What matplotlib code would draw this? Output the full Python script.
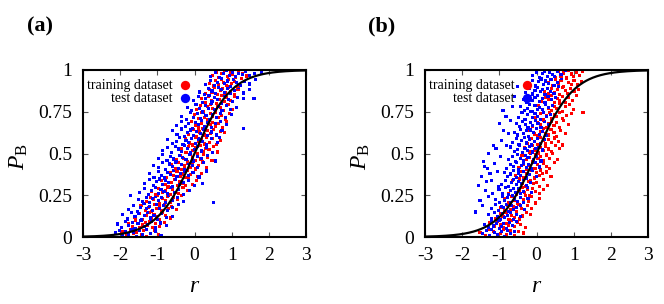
import numpy as np
import matplotlib
matplotlib.use("Agg")
import matplotlib.pyplot as plt

# ---------------- data ----------------
x_ticks = [-3, -2, -1, 0, 1, 2, 3]
x_tick_labels = ["-3", "-2", "-1", "0", "1", "2", "3"]
y_ticks = [0, 0.25, 0.5, 0.75, 1]
y_tick_labels = ["0", "0.25", "0.5", "0.75", "1"]
panel_labels = ["(a)", "(b)"]
legend_labels = ["training dataset", "test dataset"]
series_colors = ["#ff0000", "#0000ff"]

# Each series: list of (r values, P_B values) read band by band (bands of 0.05 in P_B)
train_a = [
    ([-1.95,-1.82,-1.71,-1.63,-1.55,-1.49,-1.43,-1.37,-1.28,-1.19,-1.08,-0.98], [.031,.008,.044,.019,.027,.049,.012,.038,.004,.023,.041,.016]),
    ([-1.77,-1.66,-1.58,-1.47,-1.39,-1.33,-1.26,-1.2,-1.12,-1.04,-0.93,-0.81], [.083,.061,.097,.054,.072,.089,.067,.092,.058,.079,.064,.086]),
    ([-1.6,-1.47,-1.39,-1.3,-1.22,-1.15,-1.09,-1.02,-0.95,-0.86,-0.77,-0.64], [.117,.142,.103,.128,.149,.111,.135,.122,.107,.146,.131,.114]),
    ([-1.44,-1.33,-1.24,-1.16,-1.08,-1.01,-0.94,-0.88,-0.8,-0.71,-0.62,-0.49], [.188,.161,.176,.153,.197,.169,.184,.158,.193,.172,.181,.166]),
    ([-1.3,-1.18,-1.1,-1.01,-0.93,-0.86,-0.79,-0.72,-0.64,-0.56,-0.45,-0.34], [.214,.238,.226,.249,.203,.231,.218,.244,.209,.236,.222,.247]),
    ([-1.15,-1.04,-0.96,-0.87,-0.79,-0.72,-0.65,-0.58,-0.5,-0.42,-0.31,-0.2], [.272,.256,.293,.264,.281,.299,.252,.287,.268,.259,.295,.277]),
    ([-0.89,-0.78,-0.7,-0.61,-0.53,-0.46,-0.39,-0.32,-0.24,-0.16,-0.05,0.06], [.341,.317,.303,.328,.346,.311,.334,.322,.307,.349,.315,.338]),
    ([-0.75,-0.64,-0.56,-0.47,-0.39,-0.32,-0.25,-0.18,-0.1,-0.02,0.09,0.2], [.356,.383,.368,.392,.361,.377,.354,.398,.372,.386,.364,.381]),
    ([-0.62,-0.51,-0.43,-0.34,-0.26,-0.19,-0.12,-0.05,0.03,0.11,0.22,0.33], [.436,.412,.447,.403,.425,.441,.418,.433,.407,.428,.449,.415]),
    ([-0.48,-0.37,-0.29,-0.2,-0.12,-0.05,0.02,0.09,0.17,0.25,0.36,0.47], [.463,.489,.471,.452,.496,.478,.458,.485,.467,.493,.475,.456]),
    ([-0.34,-0.23,-0.15,-0.06,0.02,0.09,0.16,0.23,0.31,0.39,0.5,0.61], [.528,.507,.544,.519,.536,.502,.548,.513,.531,.524,.541,.509]),
    ([-0.24,-0.13,-0.05,0.04,0.12,0.19,0.26,0.33,0.41,0.49,0.6,0.71], [.587,.563,.551,.594,.572,.581,.557,.598,.566,.589,.554,.577]),
    ([-0.15,-0.04,0.04,0.13,0.21,0.28,0.35,0.42,0.5,0.58,0.69,0.8], [.616,.642,.604,.629,.648,.611,.637,.621,.645,.607,.633,.625]),
    ([-0.08,0.03,0.11,0.2,0.28,0.35,0.42,0.49,0.57,0.65,0.76,0.87], [.694,.668,.653,.681,.659,.697,.673,.687,.662,.678,.656,.691]),
    ([-0.01,0.1,0.18,0.27,0.35,0.42,0.49,0.56,0.64,0.72,0.83,0.94], [.733,.709,.745,.718,.702,.739,.724,.748,.713,.729,.706,.741]),
    ([0.06,0.17,0.25,0.34,0.42,0.49,0.56,0.63,0.71,0.79,0.9,1.01], [.762,.787,.754,.779,.796,.768,.751,.784,.773,.758,.791,.766]),
    ([0.2,0.3,0.37,0.45,0.53,0.59,0.66,0.72,0.8,0.87,0.97,1.07], [.829,.806,.843,.815,.838,.802,.824,.847,.811,.833,.818,.841]),
    ([0.3,0.4,0.47,0.55,0.63,0.69,0.76,0.82,0.9,0.97,1.07,1.17], [.857,.882,.866,.894,.851,.877,.889,.862,.898,.871,.854,.886]),
    ([0.4,0.5,0.57,0.65,0.73,0.79,0.86,0.92,1.0,1.07,1.17,1.27], [.918,.904,.937,.912,.946,.926,.908,.941,.921,.933,.902,.949]),
    ([0.48,0.58,0.66,0.74,0.82,0.89,0.96,1.03,1.1,1.18,1.28,1.4], [.967,.988,.953,.979,.995,.961,.984,.972,.957,.991,.976,.964]),
]

test_a = [
    ([-2.12,-2.02,-1.93,-1.85,-1.77,-1.7,-1.63,-1.56,-1.48,-1.39,-1.29,-1.18,-1.05,-0.9], [.024,.041,.009,.033,.017,.046,.028,.005,.038,.013,.044,.021,.036,.011]),
    ([-2.06,-1.96,-1.86,-1.77,-1.68,-1.6,-1.52,-1.44,-1.35,-1.26,-1.16,-1.05,-0.92,-0.76], [.078,.056,.093,.069,.087,.052,.081,.098,.063,.074,.091,.059,.084,.071]),
    ([-1.93,-1.8,-1.69,-1.6,-1.51,-1.43,-1.35,-1.27,-1.18,-1.09,-0.99,-0.88,-0.75,-0.59], [.134,.108,.146,.121,.139,.103,.127,.149,.114,.131,.106,.143,.118,.125]),
    ([-1.78,-1.65,-1.54,-1.45,-1.36,-1.28,-1.2,-1.12,-1.03,-0.94,-0.84,-0.73,-0.6,-0.44], [.163,.189,.154,.176,.198,.168,.183,.157,.192,.171,.186,.159,.179,.195]),
    ([-1.72,-1.5,-1.39,-1.3,-1.21,-1.13,-1.05,-0.97,-0.88,-0.79,-0.69,-0.58,-0.45,-0.29,0.52], [.246,.227,.212,.238,.204,.229,.243,.217,.234,.208,.248,.221,.236,.214,.205]),
    ([-1.48,-1.35,-1.24,-1.15,-1.06,-0.98,-0.9,-0.82,-0.73,-0.64,-0.54,-0.43,-0.3,-0.14], [.266,.291,.254,.279,.297,.261,.284,.272,.258,.294,.269,.287,.253,.276]),
    ([-1.35,-1.22,-1.11,-1.02,-0.93,-0.85,-0.77,-0.69,-0.6,-0.51,-0.41,-0.3,-0.17,-0.01,0.22], [.318,.342,.306,.331,.347,.312,.337,.324,.301,.344,.315,.329,.339,.309,.318]),
    ([-1.22,-1.09,-0.98,-0.89,-0.8,-0.72,-0.64,-0.56,-0.47,-0.38,-0.28,-0.17,-0.04,0.12,0.32], [.382,.357,.394,.369,.353,.388,.374,.398,.362,.379,.391,.366,.385,.359,.395]),
    ([-1.1,-0.97,-0.86,-0.77,-0.68,-0.6,-0.52,-0.44,-0.35,-0.26,-0.16,-0.05,0.08,0.24], [.429,.414,.446,.405,.437,.421,.449,.411,.433,.403,.441,.426,.417,.444]),
    ([-0.98,-0.85,-0.74,-0.65,-0.56,-0.48,-0.4,-0.32,-0.23,-0.14,-0.04,0.07,0.2,0.36,0.56], [.471,.496,.458,.483,.467,.451,.489,.476,.462,.493,.455,.481,.469,.487,.455]),
    ([-0.85,-0.72,-0.61,-0.52,-0.43,-0.35,-0.27,-0.19,-0.1,-0.01,0.09,0.2,0.33,0.49], [.519,.538,.506,.544,.527,.512,.549,.531,.503,.523,.541,.515,.535,.508]),
    ([-0.73,-0.6,-0.49,-0.4,-0.31,-0.23,-0.15,-0.07,0.02,0.11,0.21,0.32,0.45,0.61,0.68], [.584,.558,.571,.597,.553,.579,.566,.592,.561,.587,.574,.555,.589,.568,.595]),
    ([-0.6,-0.47,-0.36,-0.27,-0.18,-0.1,-0.02,0.06,0.15,0.24,0.34,0.45,0.58,0.74], [.638,.614,.647,.603,.626,.641,.609,.633,.619,.645,.606,.629,.611,.636]),
    ([-0.48,-0.35,-0.24,-0.15,-0.06,0.02,0.1,0.18,0.27,0.36,0.46,0.57,0.7,0.86,1.31], [.667,.693,.659,.681,.652,.688,.674,.698,.662,.684,.656,.679,.691,.671,.652]),
    ([-0.35,-0.22,-0.11,-0.02,0.07,0.15,0.23,0.31,0.4,0.49,0.59,0.7,0.83,0.99], [.721,.705,.744,.716,.737,.709,.748,.726,.703,.731,.714,.742,.718,.734]),
    ([-0.2,-0.07,0.04,0.13,0.22,0.3,0.38,0.46,0.55,0.64,0.74,0.85,0.98,1.14], [.776,.759,.793,.768,.752,.785,.771,.797,.762,.781,.755,.789,.766,.778]),
    ([-0.03,0.1,0.21,0.3,0.39,0.47,0.55,0.63,0.72,0.81,0.91,1.02,1.15,1.31,1.6], [.818,.843,.806,.829,.849,.813,.836,.824,.802,.846,.821,.811,.838,.827,.829]),
    ([0.14,0.27,0.38,0.47,0.56,0.64,0.72,0.8,0.89,0.98,1.08,1.19,1.32,1.48], [.868,.853,.891,.874,.859,.896,.881,.864,.889,.857,.878,.893,.862,.884]),
    ([0.3,0.43,0.54,0.63,0.72,0.8,0.88,0.96,1.05,1.14,1.24,1.35,1.48,1.64], [.913,.938,.906,.927,.947,.919,.934,.902,.942,.924,.909,.931,.916,.944]),
    ([0.44,0.57,0.68,0.77,0.86,0.94,1.02,1.1,1.19,1.28,1.38,1.49,1.62,1.8], [.962,.983,.954,.977,.996,.968,.988,.959,.981,.973,.992,.965,.979,.985]),
]

train_b = [
    ([-1.52,-1.38,-1.27,-1.16,-1.06,-0.97,-0.89,-0.8,-0.7,-0.6,-0.48,-0.35], [.027,.011,.043,.034,.006,.021,.047,.016,.038,.009,.031,.024]),
    ([-1.27,-1.14,-1.05,-0.97,-0.89,-0.82,-0.75,-0.68,-0.6,-0.52,-0.42,-0.3], [.086,.061,.094,.072,.055,.081,.068,.097,.063,.089,.076,.058]),
    ([-1.1,-0.98,-0.9,-0.82,-0.74,-0.67,-0.6,-0.53,-0.45,-0.37,-0.27,-0.15], [.113,.139,.121,.146,.104,.131,.117,.143,.108,.126,.149,.135]),
    ([-0.97,-0.85,-0.77,-0.69,-0.61,-0.54,-0.47,-0.4,-0.32,-0.24,-0.14,-0.02], [.176,.158,.191,.167,.184,.153,.196,.172,.162,.187,.169,.199]),
    ([-0.86,-0.74,-0.66,-0.58,-0.5,-0.43,-0.36,-0.29,-0.21,-0.13,-0.03,0.09], [.231,.208,.244,.219,.203,.237,.226,.249,.214,.241,.206,.228]),
    ([-0.75,-0.63,-0.55,-0.47,-0.39,-0.32,-0.25,-0.18,-0.1,-0.02,0.08,0.2], [.263,.289,.254,.277,.296,.268,.283,.251,.291,.272,.259,.286]),
    ([-0.65,-0.53,-0.45,-0.37,-0.29,-0.22,-0.15,-0.08,0.0,0.08,0.18,0.3], [.338,.314,.347,.322,.305,.333,.341,.318,.329,.302,.344,.311]),
    ([-0.56,-0.44,-0.36,-0.28,-0.2,-0.13,-0.06,0.01,0.09,0.17,0.27,0.39], [.366,.392,.358,.381,.374,.397,.353,.386,.369,.378,.389,.361]),
    ([-0.47,-0.35,-0.27,-0.19,-0.11,-0.04,0.03,0.1,0.18,0.26,0.36,0.48], [.418,.437,.406,.429,.446,.412,.434,.401,.441,.423,.409,.448]),
    ([-0.39,-0.27,-0.19,-0.11,-0.03,0.04,0.11,0.18,0.26,0.34,0.44,0.56], [.487,.462,.476,.453,.494,.468,.482,.457,.491,.471,.499,.464]),
    ([-0.32,-0.2,-0.12,-0.04,0.04,0.11,0.18,0.25,0.33,0.41,0.51,0.63], [.534,.509,.546,.521,.503,.538,.516,.543,.527,.511,.549,.531]),
    ([-0.25,-0.13,-0.05,0.03,0.11,0.18,0.25,0.32,0.4,0.48,0.58,0.7], [.562,.589,.571,.553,.596,.578,.558,.584,.566,.593,.574,.551]),
    ([-0.18,-0.06,0.02,0.1,0.18,0.25,0.32,0.39,0.47,0.55,0.65,0.77], [.641,.617,.606,.633,.648,.622,.611,.644,.628,.603,.637,.619]),
    ([-0.1,0.02,0.1,0.18,0.26,0.33,0.4,0.47,0.55,0.63,0.73,0.85], [.663,.687,.671,.696,.654,.679,.692,.667,.684,.658,.699,.676]),
    ([-0.02,0.1,0.18,0.26,0.34,0.41,0.48,0.55,0.63,0.71,0.81,0.93,1.25], [.716,.738,.703,.727,.745,.711,.733,.721,.748,.707,.729,.742,.745]),
    ([0.05,0.17,0.25,0.33,0.41,0.48,0.55,0.62,0.7,0.78,0.88,1.0], [.787,.762,.794,.771,.756,.783,.768,.798,.753,.779,.791,.765]),
    ([0.13,0.25,0.33,0.41,0.49,0.56,0.63,0.7,0.78,0.86,0.96,1.08], [.811,.836,.823,.847,.804,.829,.815,.842,.808,.833,.819,.845]),
    ([0.22,0.33,0.41,0.48,0.56,0.63,0.7,0.77,0.84,0.92,1.01,1.12], [.872,.858,.891,.866,.884,.853,.897,.876,.861,.888,.869,.881]),
    ([0.33,0.44,0.51,0.58,0.66,0.73,0.8,0.87,0.94,1.01,1.1,1.2], [.927,.906,.943,.918,.935,.902,.948,.923,.911,.939,.915,.931]),
    ([0.42,0.52,0.59,0.66,0.73,0.8,0.87,0.93,1.0,1.07,1.15,1.24], [.971,.957,.989,.964,.982,.953,.996,.976,.961,.985,.968,.993]),
]

test_b = [
    ([-1.45,-1.35,-1.27,-1.2,-1.13,-1.06,-1.0,-0.93,-0.86,-0.78,-0.69,-0.58], [.019,.037,.008,.044,.026,.013,.049,.031,.004,.041,.022,.035]),
    ([-1.4,-1.3,-1.22,-1.15,-1.08,-1.01,-0.95,-0.88,-0.81,-0.73,-0.64,-0.53], [.074,.057,.092,.066,.083,.098,.061,.079,.053,.088,.069,.095]),
    ([-1.3,-1.2,-1.12,-1.05,-0.98,-0.91,-0.85,-0.78,-0.71,-0.63,-0.54,-0.43], [.136,.111,.148,.124,.103,.141,.118,.129,.145,.107,.133,.121]),
    ([-1.2,-1.1,-1.02,-0.95,-0.88,-0.81,-0.75,-0.68,-0.61,-0.53,-0.44,-0.33], [.168,.193,.157,.181,.174,.196,.153,.187,.162,.178,.191,.165]),
    ([-1.1,-1.0,-0.92,-0.85,-0.78,-0.71,-0.65,-0.58,-0.51,-0.43,-0.34,-0.23], [.227,.204,.241,.218,.235,.209,.247,.222,.213,.238,.206,.231]),
    ([-1.01,-0.91,-0.83,-0.76,-0.69,-0.62,-0.56,-0.49,-0.42,-0.34,-0.25,-0.14], [.283,.261,.296,.254,.277,.291,.266,.288,.258,.273,.299,.269]),
    ([-0.93,-0.83,-0.75,-0.68,-0.61,-0.54,-0.48,-0.41,-0.34,-0.26,-0.17,-0.06], [.317,.339,.304,.328,.346,.312,.334,.321,.343,.308,.326,.349]),
    ([-0.87,-0.77,-0.69,-0.62,-0.55,-0.48,-0.42,-0.35,-0.28,-0.2,-0.11,0.0], [.388,.364,.377,.396,.358,.383,.369,.391,.353,.374,.398,.361]),
    ([-0.8,-0.7,-0.62,-0.55,-0.48,-0.41,-0.35,-0.28,-0.21,-0.13,-0.04,0.07], [.411,.436,.423,.447,.404,.429,.441,.416,.433,.407,.444,.419]),
    ([-0.75,-0.65,-0.57,-0.5,-0.43,-0.36,-0.3,-0.23,-0.16,-0.08,0.01,0.12], [.466,.484,.452,.493,.471,.458,.487,.476,.499,.462,.481,.455]),
    ([-0.7,-0.6,-0.52,-0.45,-0.38,-0.31,-0.25,-0.18,-0.11,-0.03,0.06,0.17], [.539,.513,.526,.547,.504,.532,.518,.543,.509,.529,.536,.521]),
    ([-0.65,-0.55,-0.47,-0.4,-0.33,-0.26,-0.2,-0.13,-0.06,0.02,0.11,0.22], [.568,.592,.556,.579,.597,.563,.585,.551,.574,.589,.561,.583]),
    ([-0.6,-0.5,-0.42,-0.35,-0.28,-0.21,-0.15,-0.08,-0.01,0.07,0.16,0.27], [.628,.611,.645,.619,.636,.604,.641,.624,.649,.614,.633,.607]),
    ([-0.55,-0.45,-0.37,-0.3,-0.23,-0.16,-0.1,-0.03,0.04,0.12,0.21,0.32], [.677,.662,.694,.671,.653,.688,.666,.698,.682,.657,.691,.673]),
    ([-0.49,-0.39,-0.31,-0.24,-0.17,-0.1,-0.04,0.03,0.1,0.18,0.27,0.38], [.718,.743,.706,.731,.749,.713,.737,.724,.702,.746,.721,.734]),
    ([-0.43,-0.33,-0.25,-0.18,-0.11,-0.04,0.02,0.09,0.16,0.24,0.33,0.44], [.783,.758,.771,.796,.754,.789,.766,.778,.761,.792,.774,.787]),
    ([-0.36,-0.26,-0.18,-0.11,-0.04,0.03,0.09,0.16,0.23,0.31,0.4,0.51], [.826,.803,.841,.817,.834,.848,.812,.829,.806,.844,.821,.838]),
    ([-0.29,-0.19,-0.11,-0.04,0.03,0.1,0.16,0.23,0.3,0.38,0.47,0.58], [.863,.887,.856,.878,.896,.869,.884,.852,.891,.873,.861,.899]),
    ([-0.2,-0.1,-0.02,0.05,0.12,0.19,0.25,0.32,0.39,0.47,0.56,0.67], [.917,.938,.904,.929,.946,.912,.934,.921,.941,.908,.926,.949]),
    ([-0.1,0.0,0.08,0.15,0.22,0.29,0.35,0.42,0.49,0.57,0.66,0.77], [.968,.987,.956,.979,.994,.962,.983,.971,.959,.991,.975,.998]),
    # outlying cloud on the left of the curve
    ([-1.65,-1.52,-1.45,-1.38,-1.55,-1.47,-1.33,-1.42,-1.28,-1.22,-1.18,-1.12,-1.09,-1.25,-1.35,-1.05],
     [.15,.22,.19,.28,.31,.36,.41,.45,.50,.34,.26,.44,.53,.38,.33,.39]),
    ([-0.98,-1.15,-1.30,-1.40,-1.02,-0.95,-0.88,-1.00,-0.82,-0.90,-0.75,-0.70,-0.65,-0.80,-0.60,-0.50],
     [.48,.55,.24,.42,.30,.58,.64,.68,.72,.76,.62,.70,.78,.55,.84,.90]),
]

# model committor curve P_B = (1 + tanh r) / 2
curve_r = np.linspace(-3, 3, 301)
curve_p = (1 + np.tanh(curve_r)) / 2


def interleave(train, test):
    """Draw order: band by band, training then test, so the colours mix as in the figure."""
    rs, ps, cs = [], [], []
    for k in range(max(len(train), len(test))):
        for bands, col in ((train, series_colors[0]), (test, series_colors[1])):
            if k < len(bands):
                r, p = bands[k]
                rs.extend(r)
                ps.extend(p)
                cs.extend([col] * len(r))
    return np.array(rs), np.array(ps), cs


# ---------------- style ----------------
plt.rcParams["font.family"] = ["Liberation Serif", "DejaVu Serif"]
plt.rcParams["mathtext.fontset"] = "custom"
plt.rcParams["mathtext.rm"] = "Liberation Serif"
plt.rcParams["mathtext.it"] = "Liberation Serif:italic"

W, H = 664, 304
fig = plt.figure(figsize=(W / 100, H / 100), dpi=100)

panels = [
    dict(left=83, right=306, train=train_a, test=test_a, lab_x=40, ylab_x=19, xlab_x=195),
    dict(left=425, right=648, train=train_b, test=test_b, lab_x=382, ylab_x=361, xlab_x=537),
]
top_px, bot_px = 70, 237

for i, p in enumerate(panels):
    ax = fig.add_axes([p["left"] / W, 1 - bot_px / H, (p["right"] - p["left"]) / W, (bot_px - top_px) / H])
    rr, pp, cc = interleave(p["train"], p["test"])
    ax.scatter(rr, pp, s=5, marker="s", c=cc, linewidths=0, zorder=2)
    ax.plot(curve_r, curve_p, color="black", lw=1.6, zorder=3)
    ax.set_xlim(-3, 3)
    ax.set_ylim(0, 1)
    ax.set_xticks(x_ticks)
    ax.set_xticklabels(x_tick_labels)
    ax.set_yticks(y_ticks)
    ax.set_yticklabels(y_tick_labels)
    ax.tick_params(direction="in", top=True, right=True, length=3.5, width=0.8,
                   color="#555555", labelsize=14)
    ax.tick_params(axis="x", pad=7)
    ax.tick_params(axis="y", pad=8)
    for s in ax.spines.values():
        s.set_linewidth(1.5)

    # legend (gnuplot style: text then marker)
    for j, (lbl, col) in enumerate(zip(legend_labels, series_colors)):
        yy = 0.91 - j * 0.078
        ax.text(0.40, yy, lbl, transform=ax.transAxes, ha="right", va="center", fontsize=10)
        ax.scatter([0.457], [yy], transform=ax.transAxes, s=45, c=col, linewidths=0,
                   clip_on=False, zorder=5)

    fig.text(p["lab_x"] / W, 1 - 26 / H, panel_labels[i], ha="center", va="center",
             fontsize=16, fontweight="bold")
    fig.text(p["ylab_x"] / W, 1 - 157 / H, r"$P_{\mathrm{B}}$", ha="center", va="center",
             rotation=90, fontsize=17)
    fig.text(p["xlab_x"] / W, 1 - 287 / H, r"$r$", ha="center", va="center", fontsize=17)

fig.savefig("out.png", dpi=100)
